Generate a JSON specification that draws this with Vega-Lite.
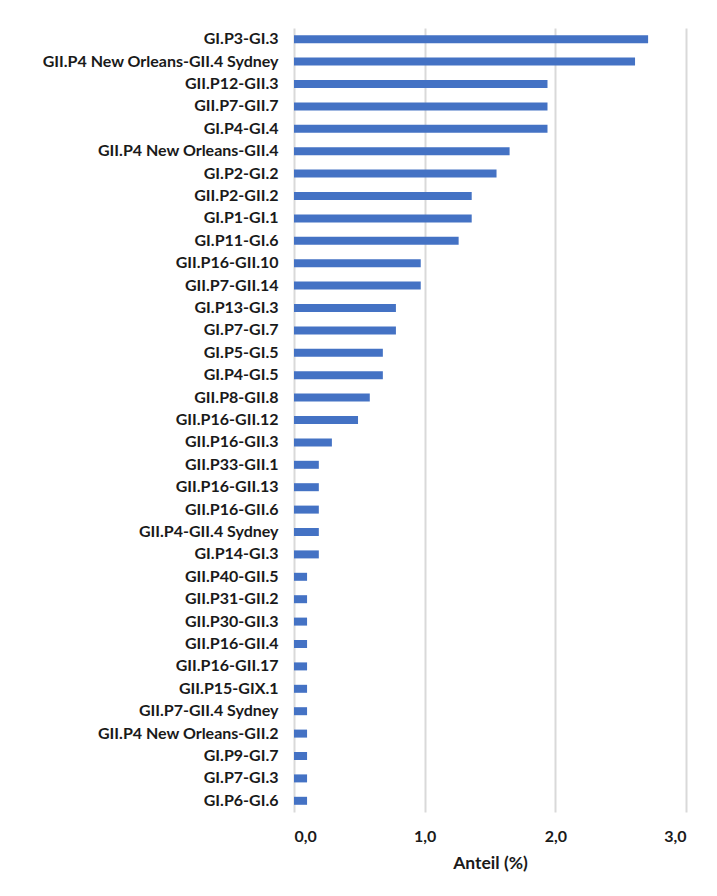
{
  "$schema": "https://vega.github.io/schema/vega-lite/v6.json",
  "autosize": {"type": "none"},
  "width": 392,
  "height": 784,
  "padding": {"left": 294, "top": 28, "right": 31, "bottom": 84},
  "background": "white",
  "data": {
    "values": [
      {"label": "GI.P3-GI.3", "value": 2.71},
      {"label": "GII.P4 New Orleans-GII.4 Sydney", "value": 2.61},
      {"label": "GII.P12-GII.3", "value": 1.94},
      {"label": "GII.P7-GII.7", "value": 1.94},
      {"label": "GI.P4-GI.4", "value": 1.94},
      {"label": "GII.P4 New Orleans-GII.4", "value": 1.65},
      {"label": "GI.P2-GI.2", "value": 1.55},
      {"label": "GII.P2-GII.2", "value": 1.36},
      {"label": "GI.P1-GI.1", "value": 1.36},
      {"label": "GI.P11-GI.6", "value": 1.26},
      {"label": "GII.P16-GII.10", "value": 0.97},
      {"label": "GII.P7-GII.14", "value": 0.97},
      {"label": "GI.P13-GI.3", "value": 0.78},
      {"label": "GI.P7-GI.7", "value": 0.78},
      {"label": "GI.P5-GI.5", "value": 0.68},
      {"label": "GI.P4-GI.5", "value": 0.68},
      {"label": "GII.P8-GII.8", "value": 0.58},
      {"label": "GII.P16-GII.12", "value": 0.49},
      {"label": "GII.P16-GII.3", "value": 0.29},
      {"label": "GII.P33-GII.1", "value": 0.19},
      {"label": "GII.P16-GII.13", "value": 0.19},
      {"label": "GII.P16-GII.6", "value": 0.19},
      {"label": "GII.P4-GII.4 Sydney", "value": 0.19},
      {"label": "GI.P14-GI.3", "value": 0.19},
      {"label": "GII.P40-GII.5", "value": 0.1},
      {"label": "GII.P31-GII.2", "value": 0.1},
      {"label": "GII.P30-GII.3", "value": 0.1},
      {"label": "GII.P16-GII.4", "value": 0.1},
      {"label": "GII.P16-GII.17", "value": 0.1},
      {"label": "GII.P15-GIX.1", "value": 0.1},
      {"label": "GII.P7-GII.4 Sydney", "value": 0.1},
      {"label": "GII.P4 New Orleans-GII.2", "value": 0.1},
      {"label": "GI.P9-GI.7", "value": 0.1},
      {"label": "GI.P7-GI.3", "value": 0.1},
      {"label": "GI.P6-GI.6", "value": 0.1}
    ]
  },
  "mark": {"type": "bar", "color": "#4472C4", "size": 8},
  "encoding": {
    "y": {
      "field": "label",
      "type": "nominal",
      "sort": null,
      "scale": {"paddingInner": 0, "paddingOuter": 0},
      "axis": {
        "title": null,
        "domain": false,
        "ticks": false,
        "grid": false,
        "labelPadding": 16,
        "labelLimit": 0,
        "labelFont": "Lato",
        "labelFontSize": 16,
        "labelFontWeight": "bold",
        "labelColor": "#1a1a1a"
      }
    },
    "x": {
      "field": "value",
      "type": "quantitative",
      "scale": {"domain": [0, 3], "nice": false},
      "axis": {
        "title": "Anteil (%)",
        "values": [0, 1, 2, 3],
        "format": ".1f",
        "formatType": "number",
        "labelExpr": "replace(datum.label, '.', ',')",
        "domain": false,
        "ticks": false,
        "grid": true,
        "gridColor": "#d9d9d9",
        "gridWidth": 2,
        "labelPadding": 16,
        "labelFont": "Lato",
        "labelFontSize": 16,
        "labelFontWeight": "bold",
        "labelColor": "#1a1a1a",
        "titleFont": "Lato",
        "titleFontSize": 17.5,
        "titleFontWeight": "bold",
        "titleColor": "#1a1a1a",
        "titlePadding": 10
      }
    }
  },
  "config": {"view": {"stroke": null}}
}
